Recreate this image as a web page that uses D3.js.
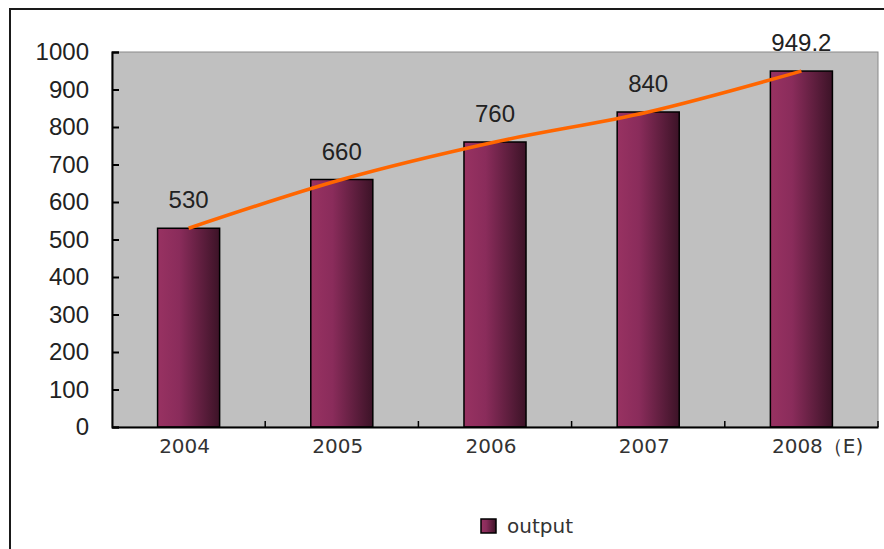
<!DOCTYPE html>
<html><head><meta charset="utf-8">
<script src="https://cdn.jsdelivr.net/npm/d3@7"></script>
<style>html,body{margin:0;padding:0;background:#fff;}svg{display:block;}</style>
</head><body>
<svg id="c" width="884" height="549"></svg>
<script>
const categories = ["2004", "2005", "2006", "2007", "2008（E)"];
const outputValues = [530, 660, 760, 840, 949.2];
const valueLabels = ["530", "660", "760", "840", "949.2"];
const yTicks = [0, 100, 200, 300, 400, 500, 600, 700, 800, 900, 1000];
const seriesName = "output";

const svg = d3.select("#c");
const m = {left: 112, top: 52, right: 878, bottom: 427};

// outer border
svg.append("rect").attr("x", 10).attr("y", 9).attr("width", 900).attr("height", 600)
  .attr("fill", "#fff").attr("stroke", "#1a1a1a").attr("stroke-width", 2);

const defs = svg.append("defs");
const grad = defs.append("linearGradient").attr("id", "barGrad").attr("x1", "0").attr("x2", "1").attr("y1", "0").attr("y2", "0");
grad.append("stop").attr("offset", "0%").attr("stop-color", "#983262");
grad.append("stop").attr("offset", "35%").attr("stop-color", "#8a2c5b");
grad.append("stop").attr("offset", "100%").attr("stop-color", "#3c1327");

const x = d3.scaleBand().domain(categories).range([m.left, m.right]).paddingInner(0).paddingOuter(0);
const y = d3.scaleLinear().domain([0, 1000]).range([m.bottom, m.top]);

// plot area
svg.append("rect").attr("x", m.left).attr("y", m.top).attr("width", m.right - m.left).attr("height", m.bottom - m.top)
  .attr("fill", "#c0c0c0").attr("stroke", "#8a8a8a").attr("stroke-width", 1);

// bars
const bw = x.bandwidth() * 0.405;
svg.append("g").selectAll("rect").data(outputValues).join("rect")
  .attr("x", (d, i) => x(categories[i]) + x.bandwidth() / 2 - bw / 2)
  .attr("y", d => y(d))
  .attr("width", bw)
  .attr("height", d => y(0) - y(d))
  .attr("fill", "url(#barGrad)")
  .attr("stroke", "#000").attr("stroke-width", 1.5);

// y axis
const yAxis = d3.axisLeft(y).tickValues(yTicks).tickSize(-7).tickPadding(30).tickFormat(d3.format("d"));
const gy = svg.append("g").attr("transform", `translate(${m.left},0)`).call(yAxis);
gy.select(".domain").attr("stroke", "#000").attr("stroke-width", 2);
gy.selectAll(".tick line").attr("stroke", "#000").attr("stroke-width", 2);
gy.selectAll(".tick text").attr("font-family", "Liberation Sans, Arial, sans-serif").attr("font-size", 24)
  .attr("fill", "#222").attr("x", -23);

// x axis
const gx = svg.append("g").attr("transform", `translate(0,${m.bottom})`)
  .call(d3.axisBottom(x).tickSize(0).tickFormat(""));
gx.select(".domain").attr("stroke", "#000").attr("stroke-width", 2);
const bounds = d3.range(1, categories.length + 1).map(i => m.left + i * x.step());
svg.append("g").selectAll("line").data(bounds).join("line")
  .attr("x1", d => d).attr("x2", d => d).attr("y1", m.bottom - 6).attr("y2", m.bottom)
  .attr("stroke", "#000").attr("stroke-width", 1.5);

// x labels
const xl = svg.append("g").selectAll("text").data(categories).join("text")
  .attr("y", 453)
  .attr("font-family", "DejaVu Sans, sans-serif").attr("font-size", 20).attr("fill", "#333");
xl.each(function(d) {
  const t = d3.select(this);
  const year = d.slice(0, 4), suffix = d.slice(4);
  t.append("tspan").text(year);
  if (suffix) t.append("tspan").text(suffix);
  const tmp = svg.append("text").attr("font-family", "DejaVu Sans, sans-serif").attr("font-size", 20).text(year);
  const yw = tmp.node().getComputedTextLength();
  tmp.remove();
  t.attr("x", x(d) + x.bandwidth() / 2 - 4 - yw / 2);
});

// trend line
const line = d3.line()
  .x((d, i) => x(categories[i]) + x.bandwidth() / 2)
  .y(d => y(d))
  .curve(d3.curveMonotoneX);
svg.append("path").datum(outputValues).attr("d", line)
  .attr("fill", "none").attr("stroke", "#ff6600").attr("stroke-width", 3.5);

// value labels
svg.append("g").selectAll("text").data(outputValues).join("text")
  .attr("x", (d, i) => x(categories[i]) + x.bandwidth() / 2)
  .attr("y", d => y(d) - 20)
  .attr("text-anchor", "middle")
  .attr("font-family", "Liberation Sans, Arial, sans-serif").attr("font-size", 24).attr("fill", "#222")
  .text((d, i) => valueLabels[i]);

// legend
const lg = svg.append("g");
lg.append("rect").attr("x", 481).attr("y", 519).attr("width", 15).attr("height", 14)
  .attr("fill", "url(#barGrad)").attr("stroke", "#000").attr("stroke-width", 1.5);
lg.append("text").attr("x", 507).attr("y", 533).attr("font-family", "DejaVu Sans, sans-serif")
  .attr("font-size", 20).attr("fill", "#333").text(seriesName);
</script>
</body></html>
